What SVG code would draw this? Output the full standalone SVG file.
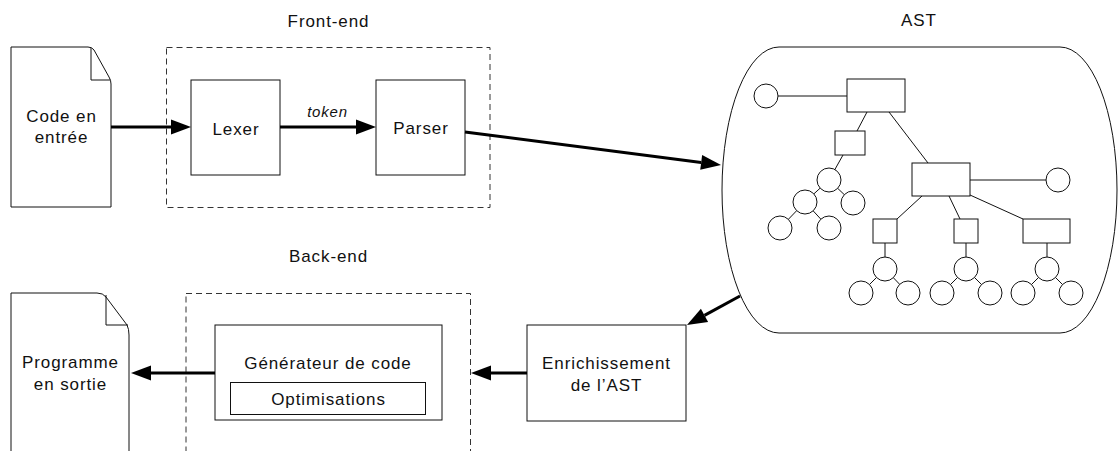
<svg xmlns="http://www.w3.org/2000/svg" width="1118" height="451" viewBox="0 0 1118 451">
<style>
  .box { fill: #fff; stroke: #111; stroke-width: 1; }
  .dash { fill: none; stroke: #333; stroke-width: 1; stroke-dasharray: 6 4; }
  .tl { fill: none; stroke: #111; stroke-width: 1; }
  .tn { fill: #fff; stroke: #111; stroke-width: 1; }
  .conn { fill: none; stroke: #000; stroke-width: 3; marker-end: url(#arrow); }
  text { font-family: "Liberation Sans", Arial, Helvetica, sans-serif; font-size: 17px; letter-spacing: 0.9px; fill: #111; text-anchor: middle; }
  .it { font-style: italic; font-size: 15px; letter-spacing: 0.8px; }
</style>
<defs>
  <marker id="arrow" markerUnits="userSpaceOnUse" markerWidth="21" markerHeight="16" refX="0" refY="8" orient="auto" overflow="visible">
    <path d="M0,0.5 L20,8 L0,15.5 Z" fill="#000"/>
  </marker>
</defs>
<rect width="1118" height="451" fill="#fff"/>

<g id="frontend-group">
  <rect class="dash" x="166.5" y="47.5" width="323.5" height="160"/>
  <text x="328.5" y="27">Front-end</text>
</g>
<g id="backend-group">
  <rect class="dash" x="186" y="293.5" width="284.5" height="200"/>
  <text x="328.5" y="262">Back-end</text>
</g>

<g id="code-entree">
  <path class="box" d="M11,207 V47 H88 Q92,47 94,50 L109,77 Q111,80 111,84 V207 Z"/>
  <path class="tl" d="M91,48 V80 H110"/>
  <text x="61.5" y="122">Code en</text>
  <text x="61.5" y="143.3">entrée</text>
</g>

<g id="lexer">
  <rect class="box" x="191" y="80" width="89" height="95"/>
  <text x="236" y="135">Lexer</text>
</g>

<g id="parser">
  <rect class="box" x="376" y="80" width="89" height="95"/>
  <text x="421" y="134">Parser</text>
</g>

<g id="ast">
  <rect class="box" x="722" y="47" width="395" height="286" rx="57" ry="143"/>
  <text x="919" y="26">AST</text>
  <g id="ast-tree">
    <path class="tl" d="M778,96 H847 M867,112 L857,131 M843,155 L829,180 L805,202 M829,180 L853,203 M805,202 L780,228 M805,202 L829,228 M889,112 L928,163 M970,180 H1058 M922,196 L897,219 M949,196 L960,219 M970,195 L1023,219 M885,243 V269 L861,293 M885,269 L908,293 M966,243 V269 L942,293 M966,269 L990,293 M1047,243 V269 L1023,293 M1047,269 L1071,293"/>
    <rect class="tn" x="847" y="79" width="58" height="33"/>
    <rect class="tn" x="835" y="131" width="30" height="24"/>
    <rect class="tn" x="912" y="163" width="58" height="33"/>
    <rect class="tn" x="873" y="219" width="24" height="24"/>
    <rect class="tn" x="954" y="219" width="24" height="24"/>
    <rect class="tn" x="1023" y="219" width="47" height="24"/>
    <circle class="tn" cx="766" cy="96" r="12"/>
    <circle class="tn" cx="829" cy="180" r="12"/>
    <circle class="tn" cx="805" cy="202" r="12"/>
    <circle class="tn" cx="853" cy="203" r="12"/>
    <circle class="tn" cx="780" cy="228" r="12"/>
    <circle class="tn" cx="829" cy="228" r="12"/>
    <circle class="tn" cx="1058" cy="180" r="12"/>
    <circle class="tn" cx="885" cy="269" r="12"/>
    <circle class="tn" cx="861" cy="293" r="12"/>
    <circle class="tn" cx="908" cy="293" r="12"/>
    <circle class="tn" cx="966" cy="269" r="12"/>
    <circle class="tn" cx="942" cy="293" r="12"/>
    <circle class="tn" cx="990" cy="293" r="12"/>
    <circle class="tn" cx="1047" cy="269" r="12"/>
    <circle class="tn" cx="1023" cy="293" r="12"/>
    <circle class="tn" cx="1071" cy="293" r="12"/>
  </g>
</g>

<g id="enrichissement">
  <rect class="box" x="527" y="325" width="159" height="96"/>
  <text x="606.5" y="369.3">Enrichissement</text>
  <text x="606.5" y="390.7">de l’AST</text>
</g>

<g id="generateur">
  <rect class="box" x="215" y="325" width="227" height="95"/>
  <text x="328" y="369.3">Générateur de code</text>
  <rect class="box" x="230.5" y="382.5" width="195" height="32"/>
  <text x="328.5" y="405">Optimisations</text>
</g>

<g id="programme-sortie">
  <path class="box" d="M11,460 V293 H97 Q103,293 106,297 L127,325 Q129,329 129,335 V460"/>
  <path class="tl" d="M106,295 V325 H128"/>
  <text x="70.5" y="368.3">Programme</text>
  <text x="70.5" y="390">en sortie</text>
</g>

<g id="connectors">
  <path class="conn" d="M111,127 H171"/>
  <path class="conn" d="M280,127 H356"/>
  <text class="it" x="327.5" y="116.7">token</text>
  <path class="conn" d="M465,132 L701.2,162.4"/>
  <path class="conn" d="M740,296 L704.5,315.4"/>
  <path class="conn" d="M527,373 H491"/>
  <path class="conn" d="M215,373 H151"/>
</g>
</svg>
